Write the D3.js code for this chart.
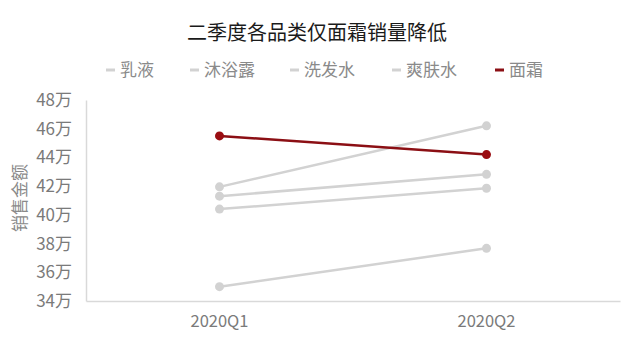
<!DOCTYPE html>
<html>
<head>
    <meta charset="utf-8">
    <script src="https://d3js.org/d3.v7.min.js"></script>
    <style>
        body { margin: 0; background: #fff; }
        text { font-family: "Noto Sans CJK SC", "Noto Sans", sans-serif; }
    </style>
</head>
<body>

<script>
const quarters = ['2020Q1', '2020Q2'];
const seriesNames = ['乳液', '沐浴露', '洗发水', '爽肤水', '面霜'];
const ruye = [41.95, 46.2];
const muyulu = [41.3, 42.82];
const xifashui = [40.4, 41.85];
const shuangfushui = [35.0, 37.67];
const mianshuang = [45.5, 44.2];
const yTicks = [34, 36, 38, 40, 42, 44, 46, 48];

const seriesValues = [ruye, muyulu, xifashui, shuangfushui, mianshuang];

function createLineChart() {
    const width = 640, height = 352;
    const margin = { top: 100, right: 20, bottom: 51, left: 86 };

    const svg = d3.select('body')
        .append('svg')
        .attr('width', width)
        .attr('height', height);

    const grey = '#d2d2d2';
    const red = '#8b0f14';
    const colorScale = d3.scaleOrdinal()
        .domain(seriesNames)
        .range([grey, grey, grey, grey, red]);

    // x scale: two bands across the plot
    const xScale = d3.scaleBand()
        .domain(quarters)
        .range([margin.left, width - margin.right]);

    const yScale = d3.scaleLinear()
        .domain([34, 48])
        .range([height - margin.bottom, margin.top]);

    // Title
    svg.append('text')
        .attr('x', 317)
        .attr('y', 40)
        .attr('text-anchor', 'middle')
        .attr('font-size', 20)
        .attr('font-weight', 400)
        .attr('fill', '#1a1a1a')
        .text('二季度各品类仅面霜销量降低');

    // Legend
    const legendX = [106, 190, 290, 392, 495];
    const legend = svg.selectAll('g.legend')
        .data(seriesNames)
        .enter()
        .append('g')
        .attr('class', 'legend')
        .attr('transform', (d, i) => `translate(${legendX[i]},70)`);
    legend.append('line')
        .attr('x1', 0).attr('x2', 9)
        .attr('y1', 0).attr('y2', 0)
        .attr('stroke', d => colorScale(d))
        .attr('stroke-width', 3);
    legend.append('text')
        .attr('x', 14)
        .attr('y', 6)
        .attr('font-size', 17)
        .attr('fill', '#8a8a8a')
        .text(d => d);

    // y axis
    const yAxis = d3.axisLeft(yScale)
        .tickValues(yTicks)
        .tickSize(0)
        .tickPadding(14)
        .tickFormat(d => d + '万');
    const gy = svg.append('g')
        .attr('transform', `translate(${margin.left},0)`)
        .call(yAxis);
    gy.select('.domain').attr('stroke', '#d9d9d9').attr('stroke-width', 1.5);
    gy.selectAll('text')
        .attr('font-size', 17)
        .attr('fill', '#7a7a7a')
        .attr('font-family', '"Noto Sans", "Noto Sans CJK SC", sans-serif');

    // x axis
    const xAxis = d3.axisBottom(xScale).tickSize(0).tickPadding(14);
    const gx = svg.append('g')
        .attr('transform', `translate(0,${height - margin.bottom})`)
        .call(xAxis);
    gx.select('.domain').attr('stroke', '#d9d9d9').attr('stroke-width', 1.5);
    gx.selectAll('text')
        .attr('font-size', 16.5)
        .attr('fill', '#7a7a7a')
        .attr('font-family', '"Noto Sans", "Noto Sans CJK SC", sans-serif');

    // Y axis title
    svg.append('text')
        .attr('transform', 'translate(26,198) rotate(-90)')
        .attr('text-anchor', 'middle')
        .attr('font-size', 17)
        .attr('fill', '#8a8a8a')
        .text('销售金额');

    const cx = q => xScale(q) + xScale.bandwidth() / 2;
    const line = d3.line()
        .x((d, i) => cx(quarters[i]))
        .y(d => yScale(d));

    const series = seriesNames.map((name, i) => ({ name, values: seriesValues[i] }));

    const groups = svg.selectAll('g.series')
        .data(series)
        .enter()
        .append('g')
        .attr('class', 'series');

    groups.append('path')
        .attr('d', d => line(d.values))
        .attr('fill', 'none')
        .attr('stroke', d => colorScale(d.name))
        .attr('stroke-width', 2.5);

    groups.selectAll('circle')
        .data(d => d.values.map((v, i) => ({ name: d.name, v, q: quarters[i] })))
        .enter()
        .append('circle')
        .attr('cx', d => cx(d.q))
        .attr('cy', d => yScale(d.v))
        .attr('r', 4.5)
        .attr('fill', d => d.name === '面霜' ? '#9a0d12' : grey);
}

createLineChart();
</script>

</body>
</html>
